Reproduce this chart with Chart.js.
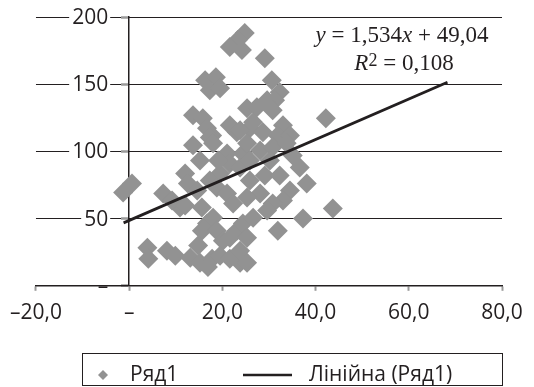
<!DOCTYPE html>
<html>
<head>
<meta charset="utf-8">
<script src="https://cdn.jsdelivr.net/npm/chart.js@4"></script>
<style>
  body { margin: 0; background: #fff; }
  #wrap { width: 534px; height: 387px; }
</style>
</head>
<body>
<div id="wrap"><canvas id="chart1"></canvas></div>
<script>
// values
var pointsX = [24.8, 23.3, 21.6, 24.2, 29.1, 16.3, 18.6, 17.3, 19.5, 30.6, 32.3, 31.3, 42.2,
  13.7, 15.8, 16.7, 17.8, 21.6, 23.1, 25.3, 27.4, 29.6, 30.8, 33.0, 25.9, 28.7, 31.9, 34.5, 26.6, 23.8,
  13.7, 17.3, 18.0, 21.0, 24.4, 25.3, 28.1, 30.8, 33.8, 21.6, 23.8, 19.5, 12.0, 12.6, 14.6, 17.3, 18.8,
  21.0, 7.3, 36.6, 38.1, 34.5, 33.0, 30.8, 28.1, 25.9, 25.3, 22.3, -1.3, 0.6, 15.6, 10.9, 16.7, 18.0,
  15.6, 18.8, 20.1, 21.6, 23.1, 24.4, 25.3, 26.6, 29.6, 37.3, 31.9, 43.7, 3.9, 4.1, 8.1, 9.9, 13.1,
  15.2, 17.8, 19.5, 21.6, 23.8, 25.3, 14.8, 16.9, 23.8, 9.2, 12.0, 15.2, 19.1, 25.9, 29.1, 32.3, 30.2, 35.1];
var pointsY = [188.1, 182.8, 177.6, 175.4, 169.4, 153.0, 155.2, 145.5, 147.0, 153.0, 144.0, 138.1, 124.6,
  126.9, 124.6, 117.2, 111.9, 119.4, 114.2, 132.1, 132.8, 138.1, 130.6, 119.4, 117.2, 114.2, 111.9, 111.9, 121.6, 115.7,
  104.5, 110.4, 106.0, 98.5, 98.5, 106.0, 100.7, 103.0, 106.0, 91.0, 88.1, 83.6, 83.6, 76.1, 70.9, 78.4, 73.1,
  68.7, 68.7, 88.1, 76.1, 70.9, 63.4, 61.2, 68.7, 78.4, 65.7, 61.2, 69.4, 76.1, 58.2, 58.2, 46.3, 50.7,
  41.0, 41.0, 33.6, 35.8, 41.0, 46.3, 35.8, 50.7, 56.0, 50.0, 41.0, 57.5, 28.4, 20.1, 26.1, 22.4, 20.9,
  17.2, 20.1, 22.4, 20.1, 17.2, 17.2, 29.9, 14.0, 26.1, 63.4, 59.7, 93.3, 93.3, 93.3, 82.1, 82.1, 93.3, 97.0];

var trendX = [-1.2, 68.3];
var trendY = [46.8, 151.5];

var xTicks = [-20, 0, 20, 40, 60, 80];
var yTicks = [0, 50, 100, 150, 200];
var seriesNames = ['Ряд1', 'Лінійна (Ряд1)'];
var eqLine1 = [['y', 'i'], [' = 1,534', ''], ['x', 'i'], [' + 49,04', '']];
var eqLine2 = [['R', 'i'], ['2', 's'], [' = 0,108', '']];

var ink = '#231f20';
var dotColor = '#929292';
var sans = "'Open Sans', sans-serif";
var serif = "'Liberation Serif', serif";

function fmtX(v) {
  if (v === 0) return '–';
  return (v < 0 ? '–' : '') + Math.abs(v).toFixed(1).replace('.', ',');
}

// y labels sit left of the crossing axis, on a white patch over the gridline
var yLabels = {
  id: 'yLabels',
  beforeDatasetsDraw: function (chart) {
    var ctx = chart.ctx;
    var ys = chart.scales.y;
    var right = chart.scales.x.getPixelForValue(0) - 21;
    ctx.save();
    ctx.font = '21px ' + sans;
    ctx.textAlign = 'right';
    ctx.textBaseline = 'middle';
    ys.ticks.forEach(function (t) {
      var py = ys.getPixelForValue(t.value);
      var label = t.value === 0 ? '–' : String(t.value);
      var w = ctx.measureText(label).width;
      if (t.value !== 0) {
        ctx.fillStyle = '#ffffff';
        ctx.fillRect(right - w - 3, py - 8, w + 5, 16);
      }
      ctx.fillStyle = ink;
      ctx.fillText(label, right, py + 1);
    });
    ctx.restore();
  }
};

var overlay = {
  id: 'overlay',
  afterDraw: function (chart) {
    var ctx = chart.ctx;
    ctx.save();
    ctx.fillStyle = ink;
    ctx.textBaseline = 'alphabetic';

    // trendline equation
    function setFont(p) {
      ctx.font = (p[1] === 'i' ? 'italic ' : '') + (p[1] === 's' ? '18px ' : '23px ') + serif;
    }
    function drawEq(parts, cx, base) {
      var w = 0;
      parts.forEach(function (p) { setFont(p); w += ctx.measureText(p[0]).width; });
      var x = cx - w / 2;
      parts.forEach(function (p) {
        setFont(p);
        ctx.fillText(p[0], x, p[1] === 's' ? base - 4 : base);
        x += ctx.measureText(p[0]).width;
      });
    }
    drawEq(eqLine1, 402, 42);
    drawEq(eqLine2, 404, 70);

    // legend
    ctx.strokeStyle = ink;
    ctx.lineWidth = 1;
    ctx.strokeRect(82.5, 353.5, 420, 32);
    ctx.fillStyle = dotColor;
    ctx.beginPath();
    ctx.moveTo(103, 370); ctx.lineTo(108, 375); ctx.lineTo(103, 380); ctx.lineTo(98, 375);
    ctx.closePath();
    ctx.fill();
    ctx.strokeStyle = ink;
    ctx.lineWidth = 2.5;
    ctx.beginPath();
    ctx.moveTo(243, 375); ctx.lineTo(292, 375);
    ctx.stroke();
    ctx.fillStyle = ink;
    ctx.font = '21px ' + sans;
    ctx.fillText(seriesNames[0], 130, 381);
    ctx.fillText(seriesNames[1], 309, 381);
    ctx.restore();
  }
};

var ctx = document.getElementById('chart1').getContext('2d');
var myChart = new Chart(ctx, {
  type: 'scatter',
  data: {
    datasets: [
      {
        label: seriesNames[0],
        data: pointsX.map(function (x, i) { return {x: x, y: pointsY[i]}; }),
        pointStyle: 'rectRot',
        pointRadius: 10,
        pointBorderWidth: 0,
        backgroundColor: dotColor,
        borderColor: dotColor,
        order: 1
      },
      {
        label: seriesNames[1],
        type: 'line',
        data: trendX.map(function (x, i) { return {x: x, y: trendY[i]}; }),
        borderColor: ink,
        borderWidth: 2.8,
        pointRadius: 0,
        fill: false,
        order: 0
      }
    ]
  },
  options: {
    responsive: true,
    maintainAspectRatio: false,
    animation: false,
    events: [],
    layout: { padding: { left: 35, right: 32, top: 17, bottom: 51 } },
    plugins: {
      legend: { display: false },
      tooltip: { enabled: false }
    },
    scales: {
      x: {
        type: 'linear',
        position: 'bottom',
        min: -20,
        max: 80,
        afterBuildTicks: function (s) { s.ticks = xTicks.map(function (v) { return {value: v}; }); },
        ticks: {
          padding: 10,
          color: ink,
          maxRotation: 0,
          autoSkip: false,
          font: { family: sans, size: 21 },
          callback: function (v) { return fmtX(v); }
        },
        grid: { drawOnChartArea: false, tickLength: 5, tickWidth: 2, tickColor: '#9a9a9a' },
        border: { color: ink, width: 1.5 }
      },
      y: {
        type: 'linear',
        position: { x: 0 },
        min: 0,
        max: 200,
        afterBuildTicks: function (s) { s.ticks = yTicks.map(function (v) { return {value: v}; }); },
        ticks: { display: false },
        grid: { color: ink, lineWidth: 1, tickLength: 7, tickWidth: 2.5, tickColor: '#9a9a9a' },
        border: { color: ink, width: 1.5 }
      }
    }
  },
  plugins: [yLabels, overlay]
});
</script>
</body>
</html>
